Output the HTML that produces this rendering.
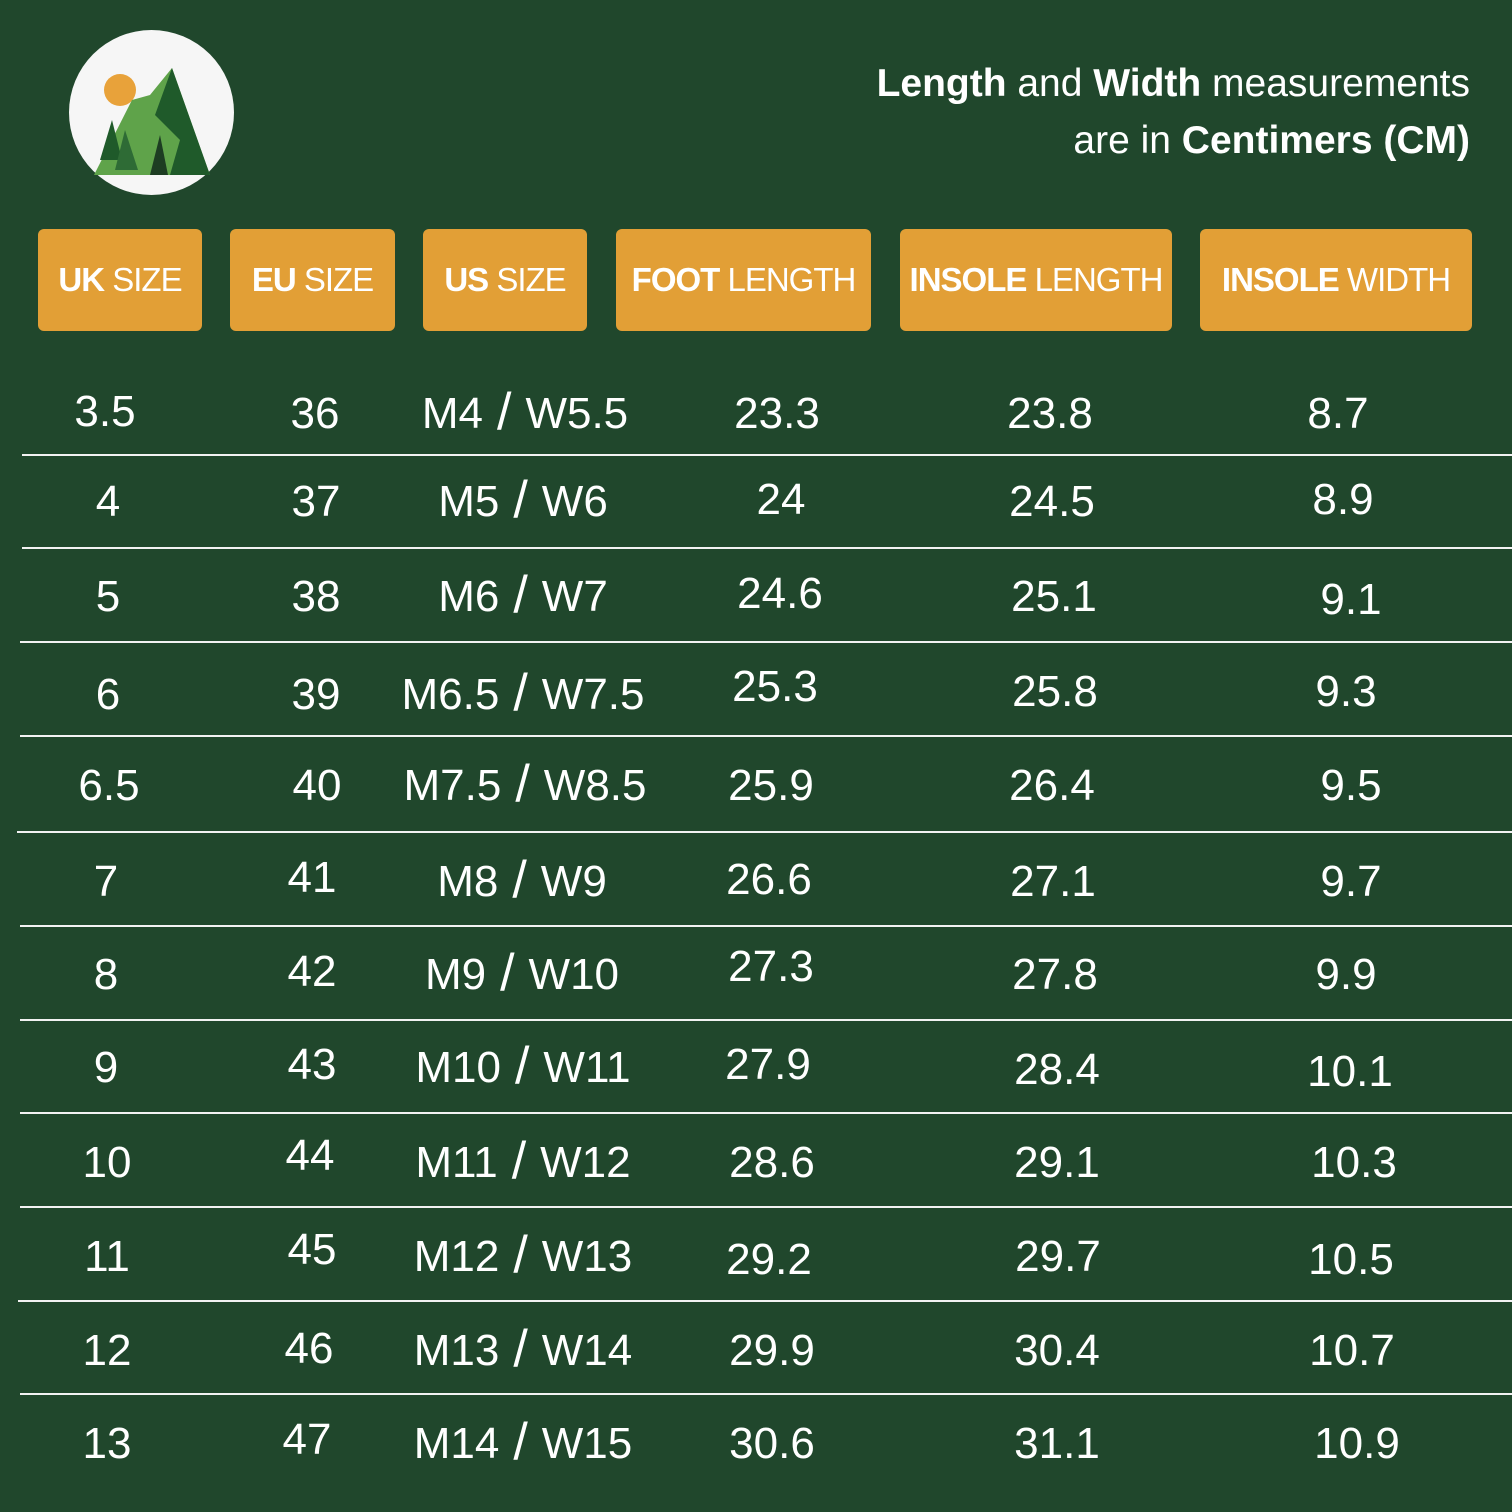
<!DOCTYPE html>
<html><head><style>
body{margin:0;width:1512px;height:1512px;background:#20472c;position:relative;overflow:hidden;font-family:"Liberation Sans",sans-serif;color:#fff}
.t{position:absolute;transform:translate(-50%,-50%);font-size:44px;white-space:nowrap;line-height:1}
.t i{font-style:normal;font-size:52px;margin:0 14px;line-height:0;vertical-align:-1px}
.l{position:absolute;height:2px;background:#f2f2f2;right:0}
.h{position:absolute;top:229px;height:102px;background:#e29f36;border-radius:6px;display:flex;align-items:center;justify-content:center;font-size:33px;color:#fff;white-space:nowrap;letter-spacing:-1px}
.h b{font-weight:bold}
.hd{position:absolute;right:42px;text-align:right;font-size:39px;line-height:57px;top:55px}
</style></head><body>
<div style="position:absolute;left:69px;top:30px;width:165px;height:165px;border-radius:50%;background:#f6f6f6"></div>
<svg style="position:absolute;left:60px;top:20px" width="190" height="190" viewBox="0 0 190 190">
<circle cx="60" cy="70" r="16" fill="#e8a23a"/>
<polygon points="34,155 72,80 90,75 112,48 150,155" fill="#5fa34a"/>
<polygon points="112,48 150,155 110,155 120,120 95,95" fill="#1f5a2a"/>
<polygon points="40,140 52,100 62,140" fill="#1f5a2a"/>
<polygon points="55,150 65,110 78,150" fill="#2e6b35"/>
<polygon points="90,155 100,115 108,155" fill="#1d3d22"/>
</svg>
<div class="hd"><b>Length</b> and <b>Width</b> measurements<br>are in <b>Centimers (CM)</b></div>
<div class="h" style="left:38px;width:164px"><b>UK</b>&nbsp;SIZE</div>
<div class="h" style="left:230px;width:165px"><b>EU</b>&nbsp;SIZE</div>
<div class="h" style="left:423px;width:164px"><b>US</b>&nbsp;SIZE</div>
<div class="h" style="left:616px;width:255px"><b>FOOT</b>&nbsp;LENGTH</div>
<div class="h" style="left:900px;width:272px"><b>INSOLE</b>&nbsp;LENGTH</div>
<div class="h" style="left:1200px;width:272px"><b>INSOLE</b>&nbsp;WIDTH</div>
<div class="l" style="left:22px;top:454px"></div>
<div class="l" style="left:22px;top:547px"></div>
<div class="l" style="left:20px;top:641px"></div>
<div class="l" style="left:20px;top:735px"></div>
<div class="l" style="left:17px;top:831px"></div>
<div class="l" style="left:20px;top:925px"></div>
<div class="l" style="left:20px;top:1019px"></div>
<div class="l" style="left:20px;top:1112px"></div>
<div class="l" style="left:20px;top:1206px"></div>
<div class="l" style="left:18px;top:1300px"></div>
<div class="l" style="left:20px;top:1393px"></div>
<div class="t" style="left:105px;top:412px">3.5</div><div class="t" style="left:315px;top:414px">36</div><div class="t" style="left:525px;top:414px">M4<i>/</i>W5.5</div><div class="t" style="left:777px;top:414px">23.3</div><div class="t" style="left:1050px;top:414px">23.8</div><div class="t" style="left:1338px;top:414px">8.7</div>
<div class="t" style="left:108px;top:502px">4</div><div class="t" style="left:316px;top:502px">37</div><div class="t" style="left:523px;top:502px">M5<i>/</i>W6</div><div class="t" style="left:781px;top:500px">24</div><div class="t" style="left:1052px;top:502px">24.5</div><div class="t" style="left:1343px;top:500px">8.9</div>
<div class="t" style="left:108px;top:597px">5</div><div class="t" style="left:316px;top:597px">38</div><div class="t" style="left:523px;top:597px">M6<i>/</i>W7</div><div class="t" style="left:780px;top:594px">24.6</div><div class="t" style="left:1054px;top:597px">25.1</div><div class="t" style="left:1351px;top:600px">9.1</div>
<div class="t" style="left:108px;top:695px">6</div><div class="t" style="left:316px;top:695px">39</div><div class="t" style="left:523px;top:695px">M6.5<i>/</i>W7.5</div><div class="t" style="left:775px;top:687px">25.3</div><div class="t" style="left:1055px;top:692px">25.8</div><div class="t" style="left:1346px;top:692px">9.3</div>
<div class="t" style="left:109px;top:786px">6.5</div><div class="t" style="left:317px;top:786px">40</div><div class="t" style="left:525px;top:786px">M7.5<i>/</i>W8.5</div><div class="t" style="left:771px;top:786px">25.9</div><div class="t" style="left:1052px;top:786px">26.4</div><div class="t" style="left:1351px;top:786px">9.5</div>
<div class="t" style="left:106px;top:882px">7</div><div class="t" style="left:312px;top:878px">41</div><div class="t" style="left:522px;top:882px">M8<i>/</i>W9</div><div class="t" style="left:769px;top:880px">26.6</div><div class="t" style="left:1053px;top:882px">27.1</div><div class="t" style="left:1351px;top:882px">9.7</div>
<div class="t" style="left:106px;top:975px">8</div><div class="t" style="left:312px;top:972px">42</div><div class="t" style="left:522px;top:975px">M9<i>/</i>W10</div><div class="t" style="left:771px;top:967px">27.3</div><div class="t" style="left:1055px;top:975px">27.8</div><div class="t" style="left:1346px;top:975px">9.9</div>
<div class="t" style="left:106px;top:1068px">9</div><div class="t" style="left:312px;top:1065px">43</div><div class="t" style="left:523px;top:1068px">M10<i>/</i>W11</div><div class="t" style="left:768px;top:1065px">27.9</div><div class="t" style="left:1057px;top:1070px">28.4</div><div class="t" style="left:1350px;top:1072px">10.1</div>
<div class="t" style="left:107px;top:1163px">10</div><div class="t" style="left:310px;top:1156px">44</div><div class="t" style="left:523px;top:1163px">M11<i>/</i>W12</div><div class="t" style="left:772px;top:1163px">28.6</div><div class="t" style="left:1057px;top:1163px">29.1</div><div class="t" style="left:1354px;top:1163px">10.3</div>
<div class="t" style="left:107px;top:1257px">11</div><div class="t" style="left:312px;top:1250px">45</div><div class="t" style="left:523px;top:1257px">M12<i>/</i>W13</div><div class="t" style="left:769px;top:1260px">29.2</div><div class="t" style="left:1058px;top:1257px">29.7</div><div class="t" style="left:1351px;top:1260px">10.5</div>
<div class="t" style="left:107px;top:1351px">12</div><div class="t" style="left:309px;top:1349px">46</div><div class="t" style="left:523px;top:1351px">M13<i>/</i>W14</div><div class="t" style="left:772px;top:1351px">29.9</div><div class="t" style="left:1057px;top:1351px">30.4</div><div class="t" style="left:1352px;top:1351px">10.7</div>
<div class="t" style="left:107px;top:1444px">13</div><div class="t" style="left:307px;top:1440px">47</div><div class="t" style="left:523px;top:1444px">M14<i>/</i>W15</div><div class="t" style="left:772px;top:1444px">30.6</div><div class="t" style="left:1057px;top:1444px">31.1</div><div class="t" style="left:1357px;top:1444px">10.9</div>
</body></html>
